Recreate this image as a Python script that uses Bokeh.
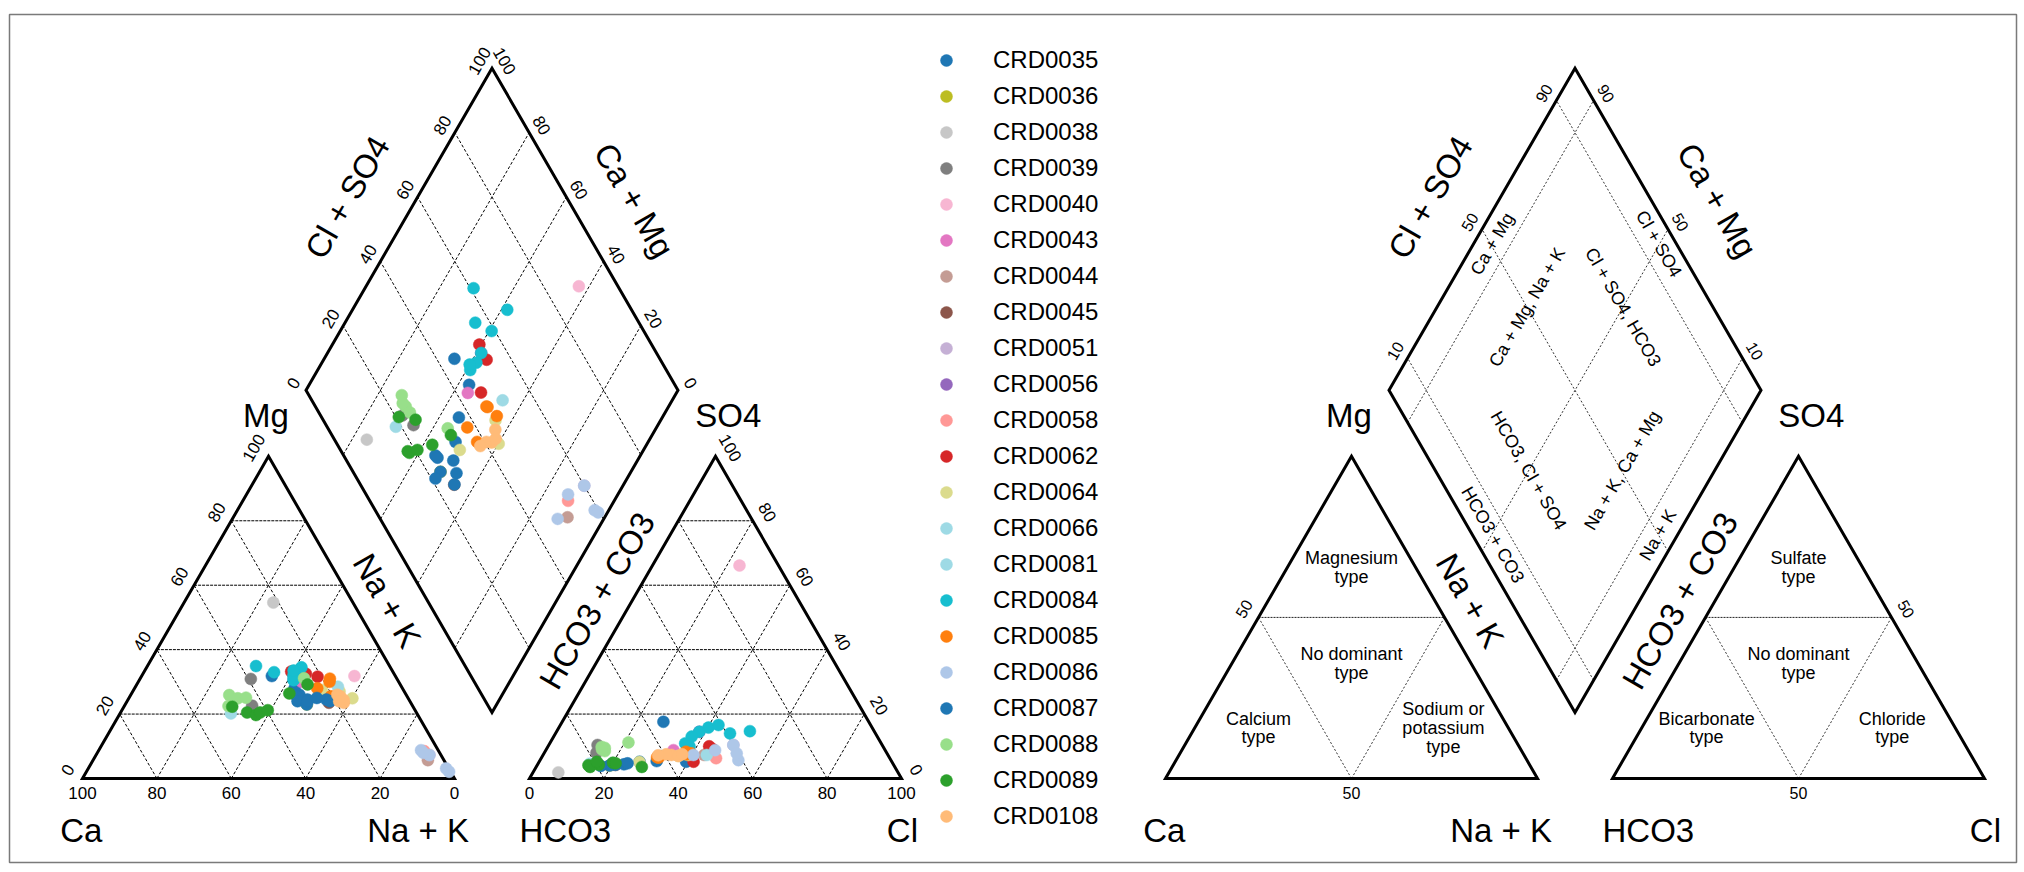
import numpy as np
from bokeh.plotting import figure
from bokeh.models import Range1d, ColumnDataSource, Legend, LegendItem
from bokeh.core.properties import value
from bokeh.embed import file_html
from bokeh.resources import INLINE

# ---------------- data (meq %) ----------------
series_names = ["CRD0035", "CRD0036", "CRD0038", "CRD0039", "CRD0040", "CRD0043",
                "CRD0044", "CRD0045", "CRD0051", "CRD0056", "CRD0058", "CRD0062",
                "CRD0064", "CRD0066", "CRD0081", "CRD0084", "CRD0085", "CRD0086",
                "CRD0087", "CRD0088", "CRD0089", "CRD0108"]
series_colors = ["#1f77b4", "#bcbd22", "#c7c7c7", "#7f7f7f", "#f7b6d2", "#e377c2",
                 "#c49c94", "#8c564b", "#c5b0d5", "#9467bd", "#ff9896", "#d62728",
                 "#dbdb8d", "#9edae5", "#9edae5", "#17becf", "#ff7f0e", "#aec7e8",
                 "#1f77b4", "#98df8a", "#2ca02c", "#ffbb78"]

sample_series = (["CRD0035"] * 4 + ["CRD0036"] + ["CRD0038"] + ["CRD0039"] * 2 + ["CRD0040"] +
                 ["CRD0043"] + ["CRD0044"] + ["CRD0045"] + ["CRD0051"] + ["CRD0056"] + ["CRD0058"] +
                 ["CRD0062"] * 3 + ["CRD0064"] * 3 + ["CRD0066"] + ["CRD0081"] +
                 ["CRD0084"] * 8 + ["CRD0085"] * 5 + ["CRD0086"] * 5 +
                 ["CRD0087"] * 7 + ["CRD0088"] * 5 + ["CRD0089"] * 7 + ["CRD0108"] * 5)
nak = [35.0, 43.0, 45.3, 48.2,
       48.8,
       24.0,
       29.8, 34.3,
       57.2,
       43.9,
       90.0,
       54.5,
       89.6,
       41.3,
       87.6,
       39.5, 43.8, 47.4,
       50.6, 55.6, 60.1,
       29.8,
       54.4,
       29.2, 41.6, 35.0, 40.7, 41.3, 41.5, 41.0, 40.0,
       51.4, 51.0, 49.1, 54.0, 55.3,
       86.6, 89.6, 96.2, 97.5, 87.6,
       44.9, 45.8, 48.8, 48.5, 53.3, 54.5, 50.5,
       26.5, 29.3, 31.4, 44.0, 28.0,
       29.1, 34.0, 36.8, 37.5, 42.4, 45.9, 39.2,
       58.0, 56.5, 58.5, 55.5, 57.0]
mg = [31.8, 28.0, 26.0, 24.5,
      23.0,
      54.6,
      30.9, 22.6,
      31.8,
      30.0,
      5.7,
      23.5,
      7.3,
      31.0,
      8.5,
      33.2, 32.5, 31.6,
      27.5, 27.0, 24.9,
      20.2,
      28.5,
      34.9, 34.5, 33.0, 32.0, 31.0, 30.5, 32.0, 33.5,
      30.0, 31.0, 28.0, 25.5, 24.9,
      8.8, 7.3, 3.1, 2.1, 8.0,
      25.5, 24.0, 23.0, 24.0, 24.5, 24.0, 25.0,
      25.9, 24.9, 25.1, 31.1, 22.5,
      22.3, 20.5, 19.7, 20.5, 26.4, 29.2, 21.2,
      24.4, 25.5, 23.5, 26.0, 24.0]
cl = [27.2, 39.5, 31.5, 27.0,
      19.5,
      6.8,
      14.0, 13.1,
      23.4,
      34.3,
      43.3,
      21.0,
      49.6,
      38.4,
      47.0,
      44.5, 43.3, 41.5,
      27.0, 39.0, 36.5,
      13.9,
      44.0,
      46.9, 51.9, 40.2, 42.5, 38.4, 37.1, 36.4, 38.0,
      37.9, 38.5, 31.0, 31.5, 39.5,
      45.5, 49.6, 53.3, 51.8, 40.4,
      20.0, 20.5, 19.5, 17.2, 23.2, 21.0, 24.0,
      15.5, 14.5, 16.0, 21.0, 15.0,
      16.5, 20.0, 13.8, 14.5, 20.8, 28.4, 15.5,
      34.5, 33.0, 36.5, 31.0, 37.3]
so4 = [17.6, 5.2, 5.4, 5.2,
       4.0,
       1.9,
       8.0, 10.4,
       66.1,
       8.8,
       7.3,
       4.2,
       10.4,
       14.5,
       6.3,
       9.2, 10.0, 5.2,
       5.1, 7.3, 7.0,
       4.6,
       7.3,
       14.0, 14.7, 15.8, 16.6, 14.5, 13.0, 10.9, 10.0,
       8.3, 7.5, 6.6, 6.5, 7.8,
       8.8, 10.4, 5.7, 7.8, 7.3,
       4.7, 4.4, 4.0, 3.9, 4.4, 4.3, 4.7,
       9.5, 9.8, 8.5, 11.2, 9.0,
       4.3, 4.9, 4.1, 3.6, 4.7, 3.6, 5.2,
       7.3, 7.5, 7.0, 7.2, 7.5]
ca = [100 - n - m for n, m in zip(nak, mg)]
hco3 = [100 - c - s for c, s in zip(cl, so4)]

main_ticks = [0, 20, 40, 60, 80, 100]
class_ticks = [10, 50, 90]
type_ticks = [50]

# ---------------- geometry ----------------
FONT_NAME = "Liberation Sans"
FONT = value(FONT_NAME)
K = 3.72                       # px per percent unit
H = np.sqrt(3) / 2
G = (529 - 82) / K             # anion triangle offset
BX, BY = (491.5 - 82) / K, (778 - 712) / K   # diamond bottom vertex
DX2 = 1083 / K                 # offset of the classification panel


def cat_xy(n, m):
    return n + m / 2.0, H * m


def an_xy(c, s):
    return G + c + s / 2.0, H * s


def dia_xy(a, c):
    return BX + (c - a) / 2.0, BY + H * (a + c)


p = figure(width=2022, height=870,
           x_range=Range1d((9 - 82) / K, (2016 - 82) / K),
           y_range=Range1d((778 - 862) / K, (778 - 14) / K),
           output_backend="svg", toolbar_location=None,
           x_axis_type=None, y_axis_type=None,
           min_border_left=9, min_border_right=6, min_border_top=14, min_border_bottom=8)
p.outline_line_color = "#7a7a7a"
p.outline_line_width = 1.5
p.background_fill_color = "white"


def seg(store, p0, p1, dx=0.0):
    store[0].append([p0[0] + dx, p1[0] + dx])
    store[1].append([p0[1], p1[1]])


def text(xs, ys, ts, size, angles=0.0, align="center"):
    if np.isscalar(angles):
        angles = [angles] * len(xs)
    p.text(x=list(xs), y=list(ys), text=list(ts), angle=list(angles),
           text_font=FONT, text_font_size=size, text_align=align,
           text_baseline="middle", text_color="black")


# ---- grids (left panel) ----
hz = ([], [])
dg = ([], [])
for v in main_ticks[1:-1]:
    seg(hz, (v / 2, H * v), (100 - v / 2, H * v))
    seg(dg, (v, 0), (v + (100 - v) / 2, H * (100 - v)))
    seg(dg, (100 - v, 0), ((100 - v) / 2, H * (100 - v)))
    seg(hz, (v / 2, H * v), (100 - v / 2, H * v), G)
    seg(dg, (v, 0), (v + (100 - v) / 2, H * (100 - v)), G)
    seg(dg, (100 - v, 0), ((100 - v) / 2, H * (100 - v)), G)
    seg(dg, dia_xy(v, 0), dia_xy(v, 100))
    seg(dg, dia_xy(0, v), dia_xy(100, v))
p.multi_line(hz[0], hz[1], line_color="black", line_width=1, line_dash="3 1")
p.multi_line(dg[0], dg[1], line_color="black", line_width=1, line_dash="3 2")

# ---- class lines (right panel) ----
c2h = ([], [])
c2d = ([], [])
for off in (DX2, DX2 + G):
    seg(c2h, (25, H * 50), (75, H * 50), off)
    seg(c2d, (25, H * 50), (50, 0), off)
    seg(c2d, (75, H * 50), (50, 0), off)
for v in class_ticks:
    seg(c2d, dia_xy(v, 0), dia_xy(v, 100), DX2)
    seg(c2d, dia_xy(0, v), dia_xy(100, v), DX2)
p.multi_line(c2h[0], c2h[1], line_color="#222222", line_width=1, line_dash="2 1")
p.multi_line(c2d[0], c2d[1], line_color="#333333", line_width=1, line_dash="2 2")

# ---- outlines ----
ox, oy = [], []
for off in (0.0, DX2):
    for g in (0.0, G):
        ox.append([off + g + 0, off + g + 100, off + g + 50])
        oy.append([0, 0, 100 * H])
    pts = [dia_xy(0, 0), dia_xy(0, 100), dia_xy(100, 100), dia_xy(100, 0)]
    ox.append([off + q[0] for q in pts])
    oy.append([q[1] for q in pts])
p.patches(ox, oy, fill_color=None, line_color="black", line_width=3, line_join="miter")


# ---- tick labels ----
def edge_labels(vals, off, tri_off=4.6, full=True):
    xs, ys, ts, an = [], [], [], []
    for v in vals:
        xs += [off + v, off + G + v]
        ys += [-14 / K, -14 / K]
        ts += [str(100 - v) if full else str(v), str(v)]
        an += [0, 0]
        xs.append(off + v / 2 - tri_off * H); ys.append(H * v + tri_off * 0.5)
        ts.append(str(v)); an.append(np.pi / 3)
        xs.append(off + G + 100 - v / 2 + tri_off * H); ys.append(H * v + tri_off * 0.5)
        ts.append(str(v)); an.append(-np.pi / 3)
    return xs, ys, ts, an


xs, ys, ts, an = edge_labels(main_ticks, 0.0)
text(xs, ys, ts, "17px", an)
xs, ys, ts, an = edge_labels(type_ticks, DX2, full=False)
text(xs, ys, ts, "16px", an)


def diamond_labels(vals, off, d=3.9):
    xs, ys, ts, an = [], [], [], []
    lx, ly = dia_xy(100, 0)
    tx, ty = dia_xy(100, 100)
    rx, ry = dia_xy(0, 100)
    for v in vals:
        px, py = lx + v / 100 * (tx - lx), ly + v / 100 * (ty - ly)
        xs.append(off + px - d * H); ys.append(py + d * 0.5); ts.append(str(v)); an.append(np.pi / 3)
        px, py = rx + v / 100 * (tx - rx), ry + v / 100 * (ty - ry)
        xs.append(off + px + d * H); ys.append(py + d * 0.5); ts.append(str(v)); an.append(-np.pi / 3)
    return xs, ys, ts, an


xs, ys, ts, an = diamond_labels(main_ticks, 0.0)
text(xs, ys, ts, "17px", an)
xs, ys, ts, an = diamond_labels(class_ticks, DX2)
text(xs, ys, ts, "16px", an)

# ---- axis titles ----
titles = ["Ca", "Na + K", "HCO3", "Cl", "Mg", "SO4", "Cl + SO4", "Ca + Mg", "Na + K", "HCO3 + CO3"]
title_x = [-0.3, 90.2, 129.8, 220.4, 49.3, 173.6, 71.2, 148.3, 81.9, 138.3]
title_y = [-14.1, -14.1, -14.1, -14.1, 97.6, 97.6, 156.2, 155.4, 47.8, 47.8]
title_a = [0, 0, 0, 0, 0, 0, np.pi / 3, -np.pi / 3, -np.pi / 3, np.pi / 3]
for off in (0.0, DX2):
    text([x + off for x in title_x], title_y, titles, "33px", title_a)

# ---- classification notes (right panel) ----
dia_notes = ["Ca + Mg", "Ca + Mg, Na + K", "Cl + SO4, HCO3", "Cl + SO4",
             "HCO3, Cl + SO4", "Na + K, Ca + Mg", "HCO3 + CO3", "Na + K"]
dia_nx = [87.8, 97.2, 123.0, 132.6, 97.6, 122.8, 88.0, 132.4]
dia_ny = [143.7, 126.7, 126.7, 143.7, 82.8, 82.8, 65.5, 65.5]
dia_na = [np.pi / 3, np.pi / 3, -np.pi / 3, -np.pi / 3, -np.pi / 3, np.pi / 3, -np.pi / 3, np.pi / 3]
text([x + DX2 for x in dia_nx], dia_ny, dia_notes, "18px", dia_na)

cat_notes = ["Magnesium", "type", "No dominant", "type", "Calcium", "type", "Sodium or", "potassium", "type"]
cat_nx = [50, 50, 50, 50, 25, 25, 74.7, 74.7, 74.7]
cat_ny = [59.3, 54.1, 33.5, 28.4, 16.0, 11.1, 18.7, 13.6, 8.4]
text([x + DX2 for x in cat_nx], cat_ny, cat_notes, "18px")
an_notes = ["Sulfate", "type", "No dominant", "type", "Bicarbonate", "type", "Chloride", "type"]
an_nx = [50, 50, 50, 50, 25.3, 25.3, 75.2, 75.2]
an_ny = [59.3, 54.1, 33.5, 28.4, 16.0, 11.1, 16.0, 11.1]
text([x + DX2 + G for x in an_nx], an_ny, an_notes, "18px")

# ---- samples ----
items = []
for name, col in zip(series_names, series_colors):
    idx = [i for i, s in enumerate(sample_series) if s == name]
    X, Y = [], []
    for i in idx:
        cx, cy = cat_xy(nak[i], mg[i])
        axx, ayy = an_xy(cl[i], so4[i])
        dx, dy = dia_xy(ca[i] + mg[i], cl[i] + so4[i])
        X += [cx, axx, dx]
        Y += [cy, ayy, dy]
    src = ColumnDataSource(dict(x=X, y=Y))
    r = p.scatter(x="x", y="y", source=src, marker="circle", size=12,
                  fill_color=col, line_color=col, line_width=0.5)
    items.append(LegendItem(label=name, renderers=[r]))

legend = Legend(items=items, location=(922, 31), orientation="vertical",
                glyph_width=30, glyph_height=30, label_height=30, spacing=6,
                label_standoff=32, padding=0, margin=0,
                border_line_color=None, background_fill_alpha=0,
                label_text_font=FONT_NAME, label_text_font_size="24px",
                label_text_color="black")
p.add_layout(legend)

open("out.html", "w").write(file_html(p, INLINE))
